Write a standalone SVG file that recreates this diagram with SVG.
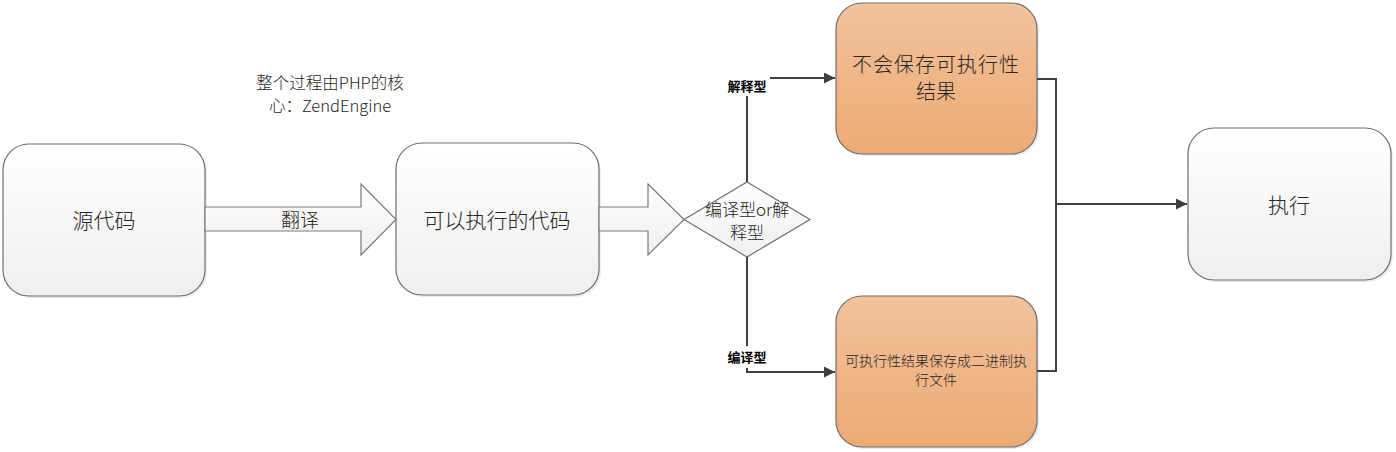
<svg xmlns="http://www.w3.org/2000/svg" width="1396" height="452" viewBox="0 0 1396 452">
<style>
.t{font-family:"Noto Sans CJK SC","Liberation Sans",sans-serif;font-weight:300;fill:#262626;text-anchor:middle;dominant-baseline:central}
.lbl{font-family:"Noto Sans CJK SC","Liberation Sans",sans-serif;font-weight:bold;font-size:13px;fill:#000;text-anchor:middle;dominant-baseline:central}
.wn{fill:url(#gw);stroke:#6e6e6e;stroke-width:1.2}
.on{fill:url(#go);stroke:#6e6e6e;stroke-width:1.2}
.sh{fill:#000;opacity:0.08}
.ln{fill:none;stroke:#404040;stroke-width:2}
</style>
<defs>
<linearGradient id="gw" x1="0" y1="0" x2="0" y2="1"><stop offset="0" stop-color="#ffffff"/><stop offset="1" stop-color="#efefef"/></linearGradient>
<linearGradient id="go" x1="0" y1="0" x2="0" y2="1"><stop offset="0" stop-color="#f2c29c"/><stop offset="1" stop-color="#edaa74"/></linearGradient>
<marker id="ah" viewBox="0 0 10 10" refX="10" refY="5" markerWidth="5.5" markerHeight="5.5" orient="auto" markerUnits="strokeWidth"><path d="M0,0 L10,5 L0,10 z" fill="#404040"/></marker>
</defs>
<rect width="1396" height="452" fill="#ffffff"/>

<g id="note"><text class="t" x="330" y="82" font-size="16.5">整个过程由PHP的核</text><text class="t" x="330" y="105" font-size="16.5">心：ZendEngine</text></g>

<g id="n-source"><rect class="sh" x="5" y="146" width="202" height="152" rx="26"/><rect class="wn" x="3" y="144" width="202" height="152" rx="26"/><text class="t" x="104" y="219" font-size="21">源代码</text></g>

<g id="n-exec-code"><rect class="sh" x="398" y="145" width="203" height="152" rx="26"/><rect class="wn" x="396" y="143" width="203" height="152" rx="26"/><text class="t" x="497" y="219" font-size="21">可以执行的代码</text></g>

<g id="n-decision"><polygon points="684,219.5 747,182 810,219.5 747,257" fill="url(#gw)" stroke="#6e6e6e" stroke-width="1.2"/><text class="t" x="747" y="208" font-size="17">编译型or解</text><text class="t" x="747" y="231" font-size="17">释型</text></g>

<g id="n-interp"><rect class="sh" x="838" y="5" width="201" height="151" rx="26"/><rect class="on" x="836" y="3" width="201" height="151" rx="26"/><text class="t" x="936" y="63" font-size="20" letter-spacing="1">不会保存可执行性</text><text class="t" x="936" y="90" font-size="20">结果</text></g>

<g id="n-compile"><rect class="sh" x="838" y="298" width="201" height="151" rx="26"/><rect class="on" x="836" y="296" width="201" height="151" rx="26"/><text class="t" x="936" y="360" font-size="14">可执行性结果保存成二进制执</text><text class="t" x="936" y="379" font-size="14">行文件</text></g>

<g id="n-run"><rect class="sh" x="1190" y="130" width="203" height="152" rx="26"/><rect class="wn" x="1188" y="128" width="203" height="152" rx="26"/><text class="t" x="1289" y="204" font-size="21">执行</text></g>

<g id="connectors">
<path d="M205,207 H361 V184 L396,219.5 L361,255 V231 H205 Z" fill="url(#gw)" stroke="#7a7a7a" stroke-width="1.2"/>
<text class="t" x="300" y="218" font-size="19">翻译</text>
<path d="M599,207 H648 V184 L684,219.5 L648,255 V231 H599 Z" fill="url(#gw)" stroke="#7a7a7a" stroke-width="1.2"/>
<path class="ln" d="M747,182 V78 H835" marker-end="url(#ah)"/>
<rect x="724" y="72" width="46" height="24" fill="#ffffff"/>
<text class="lbl" x="747" y="85">解释型</text>
<path class="ln" d="M747,257 V372 H835" marker-end="url(#ah)"/>
<rect x="724" y="346" width="46" height="22" fill="#ffffff"/>
<text class="lbl" x="747" y="356">编译型</text>
<path class="ln" d="M1037,79 H1056 V371 H1037"/>
<path class="ln" d="M1056,204 H1187" marker-end="url(#ah)"/>
</g>
</svg>
